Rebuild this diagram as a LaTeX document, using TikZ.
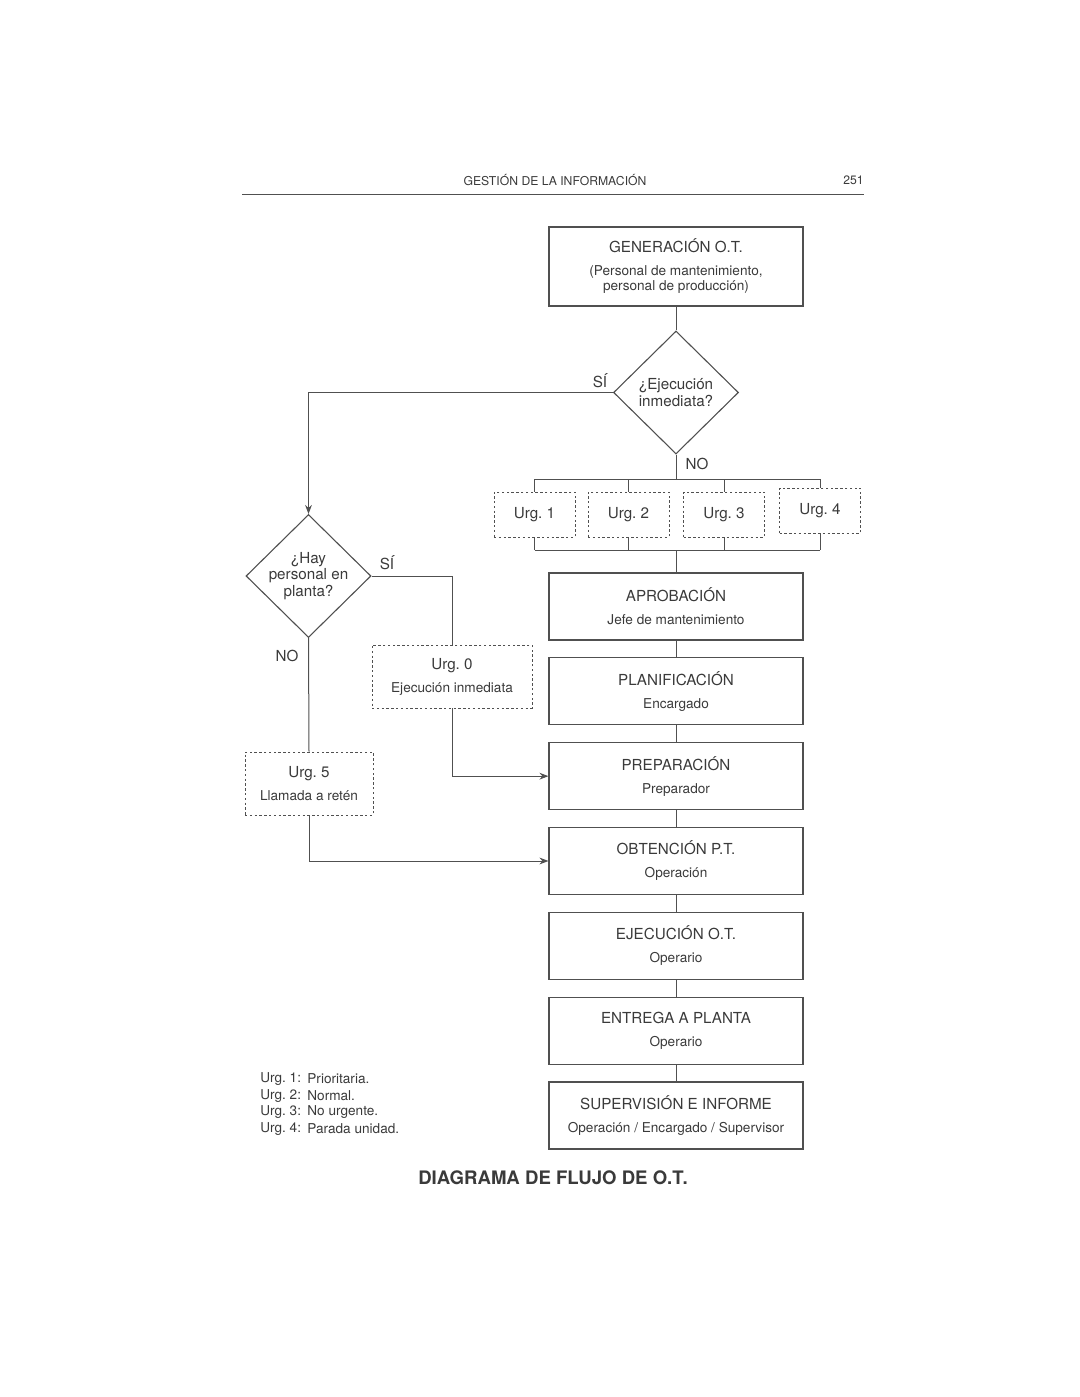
\documentclass[tikz,border=0pt]{standalone}
\usepackage{fontspec}
\setmainfont{TeX Gyre Heros}
\usetikzlibrary{shapes.geometric,arrows.meta}
\definecolor{ink}{HTML}{3A3A3A}
\definecolor{wire}{HTML}{505050}
\newcommand{\stitle}{\fontsize{7.6}{9}\selectfont}
\newcommand{\ssub}{\fontsize{6.8}{9}\selectfont}
\tikzset{
	every stage/.style={
		draw=wire,
		line width=0.55pt,
		minimum width=127pt,
		minimum height=33.5pt,
		inner sep=0pt,
		align=center,
		text=ink,
		font=\stitle
	},
	urgency/.style={
		draw=wire,
		line width=0.45pt,
		dash pattern=on 1.2pt off 1.2pt,
		inner sep=0pt,
		align=center,
		text=ink,
		font=\stitle
	},
	question/.style={
		diamond,
		draw=wire,
		line width=0.55pt,
		minimum width=62.5pt,
		minimum height=61.5pt,
		inner sep=-5pt,
		align=center,
		text=ink,
		font=\fontsize{7.6}{8.4}\selectfont
	},
	answer/.style={
		inner sep=0pt,
		text=ink,
		font=\stitle
	},
}

\begin{document}
\begin{tikzpicture}[x=0.5pt, y=-0.5pt, >={Stealth[length=4.5pt, width=3.4pt]}]
\useasboundingbox (0,0) rectangle (1080,1397);

% page header
\node [answer, font=\fontsize{6.1}{7}\selectfont] (header) at (555,180) {GESTIÓN DE LA INFORMACIÓN};
\node [answer, font=\fontsize{6.1}{7}\selectfont, anchor=east] (page) at (864,180) {251};
\draw [wire, line width=0.4pt] (242,194) -- (864,194);

% generation and first question
\node [every stage, minimum height=39.5pt] (gen) at (676,266.5)
	{GENERACIÓN O.T.\\[2.5pt]\ssub (Personal de mantenimiento,\\[-1.5pt]\ssub personal de producción)};
\node [question] (eje) at (676,392.5) {¿Ejecución\\inmediata?};

% urgency boxes
\foreach \x/\ytop [count=\i] in {534.5/514.5, 628.5/514.5, 724/514.5, 820/510.5}
	\node [urgency, minimum width=40.5pt, minimum height=22.5pt] (urg-\i) at (\x,\ytop) {Urg.\ \i};

\coordinate (bus-top) at (676,479);
\coordinate (bus-bot) at (676,550);

% main column
\foreach \n/\t/\s [count=\y] in {aprob/APROBACIÓN/Jefe de mantenimiento,
		plan/PLANIFICACIÓN/Encargado,
		prep/PREPARACIÓN/Preparador,
		obt/OBTENCIÓN P.T./Operación,
		ejec/EJECUCIÓN O.T./Operario,
		entr/ENTREGA A PLANTA/Operario,
		sup/SUPERVISIÓN E INFORME/{Operación / Encargado / Supervisor}}
	\node [every stage] (\n) at (676,606.5+84.83*\y-84.83) {\t\\[2.5pt]\ssub \s};

% left branch
\node [question] (hay) at (308.5,576) {¿Hay\\personal en\\planta?};
\node [urgency, minimum width=80pt, minimum height=31.5pt] (urg-0) at (452,676.5)
	{Urg.\ 0\\[2.5pt]\ssub Ejecución inmediata};
\node [urgency, minimum width=64pt, minimum height=31.5pt] (urg-5) at (309,783.5)
	{Urg.\ 5\\[2.5pt]\ssub Llamada a retén};

% answers
\node [answer] (si-1) at (600,381) {SÍ};
\node [answer] (no-1) at (697,464) {NO};
\node [answer] (si-2) at (387,563) {SÍ};
\node [answer] (no-2) at (287,656) {NO};

% connectors
\begin{scope}[wire, line width=0.5pt]
\draw (gen) -- (eje);
\draw (eje.south) -- (bus-top);
\draw (urg-1.north |- bus-top) -- (urg-4.north |- bus-top);
\draw (urg-1.south |- bus-bot) -- (urg-4.south |- bus-bot);
\foreach \i in {1,...,4} {
	\draw (urg-\i.north) -- (urg-\i.north |- bus-top);
	\draw (urg-\i.south) -- (urg-\i.south |- bus-bot);
}
\draw (bus-bot) -- (aprob.north);

\foreach \a/\b in {aprob/plan, plan/prep, prep/obt, obt/ejec, ejec/entr, entr/sup}
	\draw (\a) -- (\b);

\draw [->] (eje.west) -| (hay.north);
\draw (hay.east) -| (urg-0.north);
\draw [->] (urg-0.south) |- (prep.west);
\draw (hay.south) -- (urg-5.north);
\draw [->] (urg-5.south) |- (obt.west);
\end{scope}

% legend
\foreach \k/\v [count=\y] in {1/Prioritaria., 2/Normal., 3/No urgente., 4/Parada unidad.} {
	\node [answer, font=\ssub, anchor=west] (key-\k) at (260,1079+16.7*\y-16.7) {Urg.\ \k:};
	\node [answer, font=\ssub, anchor=west] (val-\k) at (307,1079+16.7*\y-16.7) {\v};
}

% caption
\node [answer, font=\fontsize{9.3}{11}\selectfont\bfseries] (caption) at (553,1178) {DIAGRAMA DE FLUJO DE O.T.};

\end{tikzpicture}
\end{document}
